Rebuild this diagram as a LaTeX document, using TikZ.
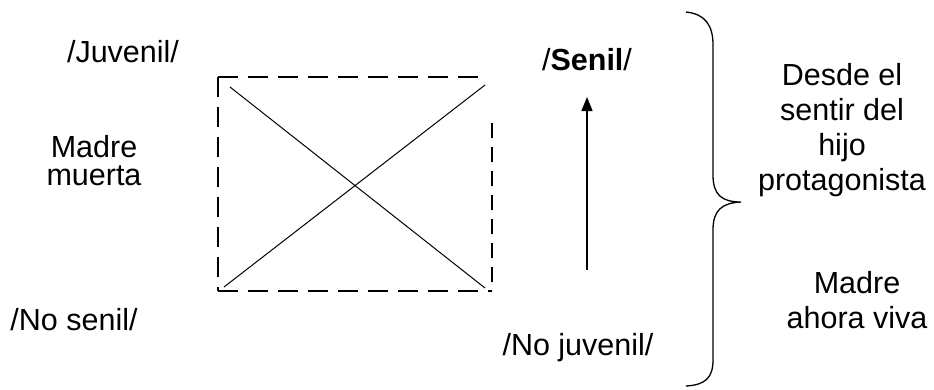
\documentclass[tikz,border=0pt]{standalone}
\usepackage{fontspec}
\setmainfont{Liberation Sans}
\usetikzlibrary{arrows.meta}
\begin{document}
\begin{tikzpicture}[x=1pt,y=-1pt,
  lbl/.style={inner sep=0pt,anchor=base,font=\fontsize{30.5}{34}\selectfont},
  dash box/.style={line width=1.6pt,dash pattern=on 20pt off 10pt},
  thin/.style={line width=1pt}]
\useasboundingbox (0,0) rectangle (934,389);
\fill[white] (0,0) rectangle (934,389);
% labels
\node[lbl] (juv) at (123,62) {/Juvenil/};
\node[lbl] (mm1) at (94,157) {Madre};
\node[lbl] (mm2) at (94,185) {muerta};
\node[lbl] (nosen) at (74,330) {/No senil/};
\node[lbl] (sen) at (587,70) {/\textbf{Senil}/};
\node[lbl] (nojuv) at (578,355) {/No juvenil/};
\node[lbl] (d1) at (842,85) {Desde el};
\node[lbl] (d2) at (842,120) {sentir del};
\node[lbl] (d3) at (842,155) {hijo};
\node[lbl] (d4) at (842,190) {protagonista};
\node[lbl] (v1) at (857,293) {Madre};
\node[lbl] (v2) at (857,328) {ahora viva};
% dashed box
\coordinate (tl) at (218,77);
\coordinate (tr) at (488,77);
\coordinate (br) at (492,291);
\coordinate (bl) at (218,291);
\coordinate (rt) at (492,117);
\draw[dash box] (tl) -- (tr);
\draw[dash box] (tl) -- (bl);
\draw[dash box] (bl) -- (br);
\draw[dash box,dash pattern=on 15pt off 9pt,dash phase=-6pt] (rt) -- (br);
% diagonals
\coordinate (d1a) at (230,87);
\coordinate (d1b) at (485,288);
\coordinate (d2a) at (224,287);
\coordinate (d2b) at (485,85);
\draw[thin] (d1a) -- (d1b);
\draw[thin] (d2a) -- (d2b);
% arrow
\coordinate (as) at (587,270);
\coordinate (ae) at (587,97);
\draw[line width=1.3pt,-{Triangle[length=14pt,width=11pt]}] (as) -- (ae);
% brace
\coordinate (bt) at (686,12);
\coordinate (tip) at (741,202);
\coordinate (bb) at (686,386);
\draw[line width=1.3pt] (bt) .. controls (705,14) and (713,25) .. (713,45)
  -- (713,175) .. controls (713,195) and (722,202) .. (tip)
  .. controls (722,203) and (713,210) .. (713,230)
  -- (713,360) .. controls (713,378) and (705,385) .. (bb);
\end{tikzpicture}
\end{document}
